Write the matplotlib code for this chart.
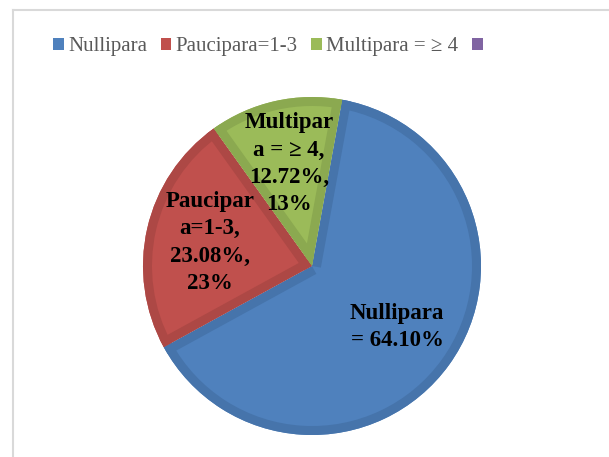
import matplotlib
matplotlib.use("Agg")
import numpy as np
import matplotlib.pyplot as plt
from matplotlib.patches import Patch, Wedge, Polygon
from matplotlib.lines import Line2D

# data
categories = ["Nullipara", "Paucipara=1-3", "Multipara = \u2265 4", ""]
values = [64.10, 23.08, 12.72]
slice_labels = ["Nullipara\n= 64.10%",
                "Paucipar\na=1-3,\n23.08%,\n23%",
                "Multipar\na = \u2265 4,\n12.72%,\n13%"]

fill_colors = ["#4f81bd", "#c0504d", "#9bbb59", "#8064a2"]
edge_colors = ["#4674ab", "#ad4845", "#8ba950"]

plt.rcParams["font.family"] = ["Liberation Serif", "DejaVu Serif"]

W, H = 609, 457
fig = plt.figure(figsize=(W / 100, H / 100), dpi=100)

# pie axes: centre (312, 266) px from top-left, radius 169 px
cx, cy, r = 312, 266, 169
ax = fig.add_axes([(cx - r) / W, (H - cy - r) / H, 2 * r / W, 2 * r / H])

wedges, texts = ax.pie(values, colors=fill_colors[:3], startangle=79.7,
                       counterclock=False, radius=1.0,
                       labels=slice_labels, labeldistance=0.62,
                       wedgeprops=dict(linewidth=0),
                       textprops=dict(fontsize=16.5, fontweight="bold",
                                      color="black", zorder=5))
ax.set_xlim(-1, 1)
ax.set_ylim(-1, 1)
ax.set_aspect("equal")
ax.axis("off")

# darker inner border on every slice
b = 9 / r
for w, ec in zip(wedges, edge_colors):
    t1, t2 = np.radians(w.theta1), np.radians(w.theta2)
    R = w.r
    clip = Wedge((0, 0), R, w.theta1, w.theta2, transform=ax.transData)
    ring = Wedge((0, 0), R, w.theta1, w.theta2, width=b,
                 facecolor=ec, edgecolor="none", zorder=2)
    ax.add_patch(ring)
    for t, sgn in ((t1, 1), (t2, -1)):
        u = np.array([np.cos(t), np.sin(t)])
        n = sgn * np.array([-np.sin(t), np.cos(t)])
        band = Polygon([(0, 0), R * u, R * u + b * n, b * n], closed=True,
                       facecolor=ec, edgecolor="none", zorder=2)
        ax.add_patch(band)
        band.set_clip_path(clip)

for t in texts:
    t.set_ha("center")
    t.set_va("center")
    t.set_multialignment("center")
    t.set_linespacing(1.4)

# legend (fourth entry has no label)
handles = [Patch(facecolor=c, edgecolor="none") for c in fill_colors]
leg = fig.legend(handles, categories, loc="center left",
                 bbox_to_anchor=(53 / W, 1 - 47 / H), ncol=4, frameon=False,
                 fontsize=15, handlelength=0.52, handleheight=0.52,
                 handletextpad=0.2, columnspacing=0.65, borderpad=0,
                 borderaxespad=0)
for t in leg.get_texts():
    t.set_color("#595959")

# chart area border (top and left edges visible)
fig.add_artist(Line2D([13 / W, 1.0], [1 - 10 / H, 1 - 10 / H],
                      transform=fig.transFigure, color="#d9d9d9", lw=1.5))
fig.add_artist(Line2D([13 / W, 13 / W], [0.0, 1 - 10 / H],
                      transform=fig.transFigure, color="#d9d9d9", lw=1.5))

fig.savefig("out.png", dpi=100)
